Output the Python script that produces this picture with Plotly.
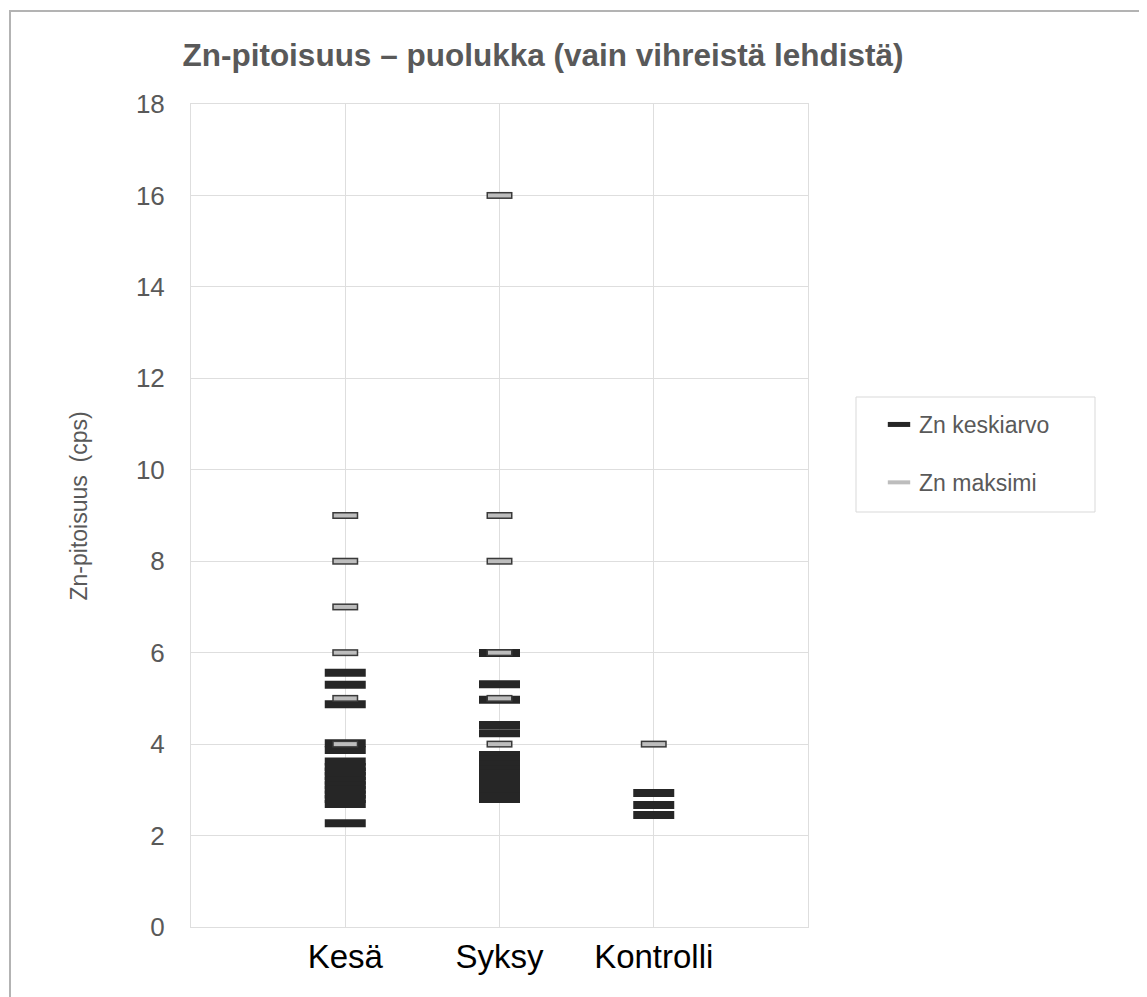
import plotly.graph_objects as go

# ---- data ----
categories = ["Kesä", "Syksy", "Kontrolli"]

kesa_mean = [5.56, 5.30, 4.87, 4.02, 3.87, 3.62, 3.50, 3.40, 3.30, 3.20, 3.10, 3.00, 2.90, 2.80, 2.69, 2.27]
syksy_mean = [5.99, 5.31, 4.97, 4.42, 4.24, 3.76, 3.66, 3.55, 3.45, 3.35, 3.25, 3.15, 3.05, 2.95, 2.86, 2.80]
kontrolli_mean = [2.93, 2.67, 2.45]

kesa_max = [9, 8, 7, 6, 5, 4]
syksy_max = [16, 9, 8, 6, 5, 4]
kontrolli_max = [4]

y_ticks = [0, 2, 4, 6, 8, 10, 12, 14, 16, 18]

title_text = "Zn-pitoisuus – puolukka (vain vihreistä lehdistä)"
y_title = "Zn-pitoisuus\u00a0 (cps)"
name_mean = "Zn keskiarvo"
name_max = "Zn maksimi"

# ---- build long lists ----
mean_x, mean_y = [], []
for cat, vals in zip(categories, [kesa_mean, syksy_mean, kontrolli_mean]):
    mean_x += [cat] * len(vals)
    mean_y += vals

max_x, max_y = [], []
for cat, vals in zip(categories, [kesa_max, syksy_max, kontrolli_max]):
    max_x += [cat] * len(vals)
    max_y += vals

FONT = "Liberation Sans, Arial, sans-serif"
GRAY_TXT = "#595959"
GRID = "#dedede"
LS = 1.4  # plotly draws line-ew symbols 1.4x the marker size

fig = go.Figure()

fig.add_trace(go.Scatter(
    x=mean_x, y=mean_y, mode="markers", name=name_mean,
    marker=dict(symbol="line-ew", size=41 / LS, color="#262626",
                line=dict(color="#262626", width=8)),
    legendgroup="a",
))
# border of the maximum markers
fig.add_trace(go.Scatter(
    x=max_x, y=max_y, mode="markers", name=name_max, showlegend=False,
    marker=dict(symbol="line-ew", size=26 / LS, color="#3a3a3a",
                line=dict(color="#3a3a3a", width=7)),
    legendgroup="b",
))
# fill of the maximum markers
fig.add_trace(go.Scatter(
    x=max_x, y=max_y, mode="markers", name=name_max,
    marker=dict(symbol="line-ew", size=23 / LS, color="#bdbdbd",
                line=dict(color="#bdbdbd", width=4)),
    legendgroup="b",
))

OFF = 8  # page offset of the figure (body margin)
W, H = 1147 - OFF, 997 - OFF
PL, PR, PT, PB = 191, 808, 104, 927  # plot area in page pixels
L, R, T, B = PL - OFF, W - (PR - OFF), PT - OFF, H - (PB - OFF)


def px(xp):
    return (xp - PL) / (PR - PL)


def py(yp):
    return (PB - yp) / (PB - PT)


fig.update_layout(
    width=W, height=H,
    margin=dict(l=L, r=R, t=T, b=B),
    paper_bgcolor="white", plot_bgcolor="white",
    font=dict(family=FONT, color=GRAY_TXT),
    title=dict(text="<b>" + title_text + "</b>", x=(543 - OFF) / W, xanchor="center",
               xref="container", y=1 - (55 - OFF) / H, yanchor="middle",
               font=dict(size=31.5, color=GRAY_TXT, family=FONT)),
    showlegend=True,
    legend=dict(x=px(879), y=py(403), xanchor="left", yanchor="top",
                font=dict(size=23, color=GRAY_TXT, family=FONT),
                bgcolor="rgba(0,0,0,0)", borderwidth=0,
                traceorder="grouped", tracegroupgap=25),
    shapes=[
        dict(type="rect", xref="paper", yref="paper",
             x0=px(856), x1=px(1095), y0=py(512), y1=py(397),
             line=dict(color="#d9d9d9", width=1), fillcolor="rgba(0,0,0,0)", layer="above"),
        dict(type="rect", xref="paper", yref="paper",
             x0=px(10), x1=px(1145), y0=py(1010), y1=py(11),
             line=dict(color="#b3b3b3", width=2), fillcolor="rgba(0,0,0,0)", layer="below"),
    ],
    annotations=[
        dict(text=y_title, textangle=-90, xref="paper", yref="paper",
             x=px(78), y=py(603), xanchor="center", yanchor="bottom",
             showarrow=False, font=dict(size=23, color=GRAY_TXT, family=FONT)),
    ],
)

fig.update_xaxes(
    type="category", categoryorder="array", categoryarray=categories,
    range=[-1, 3], showgrid=True, gridcolor=GRID, gridwidth=1,
    showline=True, linecolor=GRID, linewidth=1, mirror=True,
    ticks="", tickfont=dict(size=33, color="#000000", family=FONT),
    ticklabelstandoff=0, zeroline=False,
)
fig.update_yaxes(
    range=[0, 18], tickvals=y_ticks, showgrid=True, gridcolor=GRID, gridwidth=1,
    showline=True, linecolor=GRID, linewidth=1, mirror=True,
    ticks="", tickfont=dict(size=26, color=GRAY_TXT, family=FONT),
    ticklabelstandoff=20, zeroline=False,
)

fig.write_html("out.html")
